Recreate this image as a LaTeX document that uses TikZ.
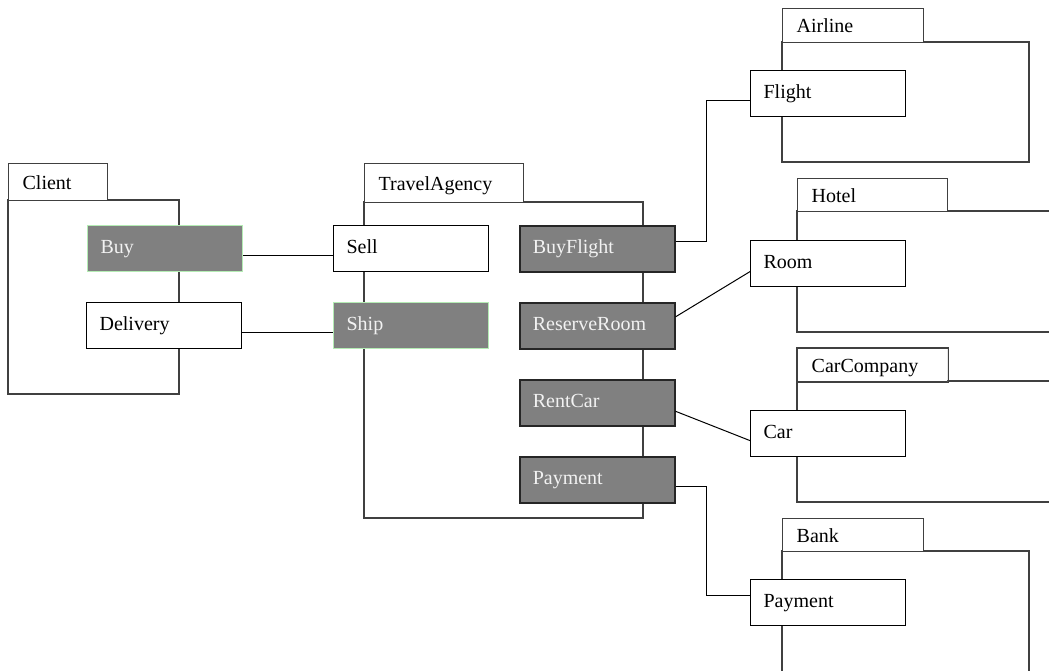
\documentclass[tikz,border=0pt]{standalone}
\usepackage{fontspec}
\setmainfont{Liberation Serif}
\definecolor{pkgline}{HTML}{404040}
\definecolor{boxgray}{HTML}{808080}
\definecolor{boxedge}{HTML}{262626}
\definecolor{greenedge}{HTML}{B4ECB4}
\definecolor{lighttext}{HTML}{F2F2F2}
\begin{document}
\begin{tikzpicture}[x=1pt,y=-1pt,
  every node/.style={font=\fontsize{20}{24}\selectfont},
  pkg/.style={draw=pkgline, line width=1.3pt},
  tab/.style={pkg, fill=white, rectangle, anchor=north west, inner xsep=14pt, inner ysep=0pt,
    text height=17pt, text depth=3pt, align=left},
  box/.style={rectangle, anchor=north west, fill=white, draw=black, line width=1.2pt,
    minimum width=155pt, minimum height=46pt, text width=129pt, inner xsep=13pt, inner ysep=0pt,
    text height=14pt, text depth=5pt, align=left},
  graybox/.style={box, fill=boxgray, draw=boxedge, line width=1.6pt, text=lighttext},
  greenbox/.style={graybox, draw=greenedge, line width=1.2pt},
  conn/.style={draw=black, line width=1pt}
]
\clip (0,0) rectangle (1049,671);
\fill[white] (0,0) rectangle (1049,671);

% Client package
\draw[pkg] (8,200) rectangle (179,394);
\node[tab, text width=71pt, minimum height=37pt] (cTab) at (8,163) {Client};
% TravelAgency package
\draw[pkg] (364,202) rectangle (643,518);
\node[tab, text width=131pt, minimum height=39pt] (tTab) at (364,163) {TravelAgency};
% Airline package
\draw[pkg] (782,42) rectangle (1029,162);
\node[tab, text width=113pt, minimum height=34pt] (aTab) at (782,8) {Airline};
% Hotel package
\draw[pkg] (797,211) rectangle (1070,332);
\node[tab, text width=122pt, minimum height=33pt] (hTab) at (797,178) {Hotel};
% CarCompany package
\draw[pkg] (797,381) rectangle (1070,502);
\begin{scope}
  \clip (797,348) rectangle (947,381);
  \node[tab, text width=122pt, minimum height=33pt] (ccTab) at (797,348) {CarCompany};
\end{scope}
\draw[pkg] (ccTab.south west) rectangle (ccTab.north east);
% Bank package
\draw[pkg] (782,551) rectangle (1029,700);
\node[tab, text width=113pt, minimum height=33pt] (bTab) at (782,518) {Bank};

% Client ports
\node[greenbox, minimum width=154pt] (buy) at (87,225) {Buy};
\node[box] (delivery) at (86,302) {Delivery};
% TravelAgency ports
\node[box] (sell) at (333,225) {Sell};
\node[greenbox] (ship) at (333,302) {Ship};
\node[graybox, minimum width=154pt] (buyflight) at (519,225) {BuyFlight};
\node[graybox, minimum width=154pt] (reserve) at (519,302) {ReserveRoom};
\node[graybox, minimum width=154pt] (rentcar) at (519,379) {RentCar};
\node[graybox, minimum width=154pt] (payment) at (519,456) {Payment};
% External ports
\node[box] (flight) at (750,70) {Flight};
\node[box] (room) at (750,240) {Room};
\node[box] (car) at (750,410) {Car};
\node[box] (bpay) at (750,579) {Payment};

% Connectors
\draw[conn] ([yshift=-6.5pt]buy.east) -- ([yshift=-6.5pt]sell.west);
\draw[conn] ([yshift=-7pt]delivery.east) -- ([yshift=-7pt]ship.west);
\draw[conn] ([yshift=7.5pt]buyflight.east) -- ++(31,0) |- ([yshift=-7pt]flight.west);
\draw[conn] ([yshift=9pt]reserve.east) -- ([yshift=-8pt]room.west);
\draw[conn] ([yshift=-8.5pt]rentcar.east) -- ([yshift=-7pt]car.west);
\draw[conn] ([yshift=-7pt]payment.east) -- ++(31,0) |- ([yshift=7.5pt]bpay.west);
\end{tikzpicture}
\end{document}
